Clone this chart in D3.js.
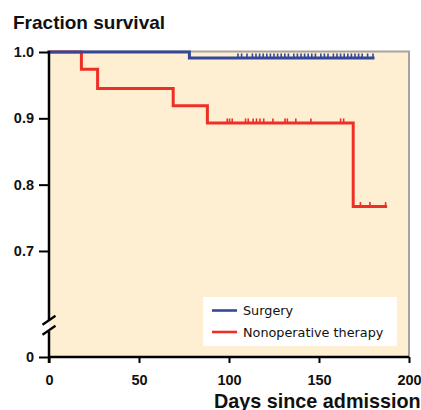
<!DOCTYPE html>
<html>
<head>
<meta charset="utf-8">
<script src="https://cdn.jsdelivr.net/npm/d3@7"></script>
<style>
  html, body { margin: 0; padding: 0; background: #fff; }
  svg { display: block; font-family: "Liberation Sans", Arial, Helvetica, sans-serif; }
</style>
</head>
<body>
<svg id="chart" width="421" height="410"></svg>
<script>
'use strict';

/* survival steps: [day, fraction] */
const surgerySteps = [[0, 1.0], [78, 0.991]];
const surgeryEnd = 180;
const surgeryCensored = [105, 107, 110, 113, 115, 117, 119, 121, 123, 125, 127, 129, 131, 133,
  136, 138, 140, 142, 144, 146, 148, 151, 153, 155, 158, 160, 162, 164, 166, 168, 170, 172,
  174, 177, 180];

const nonopSteps = [[0, 1.0], [18, 0.974], [27, 0.945], [69, 0.919], [88, 0.893], [169, 0.767]];
const nonopEnd = 187;
const nonopCensored = [99, 100.3, 101.8, 109.2, 110.7, 113.4, 115.3, 117.2, 119.3, 124.4, 131.1,
  132.4, 137.1, 145.5, 162, 163.7, 173, 178.3, 187];

const xTicks = [0, 50, 100, 150, 200];
const yTicks = [0, 0.7, 0.8, 0.9, 1.0];
const yTickLabels = ['0', '0.7', '0.8', '0.9', '1.0'];
const seriesNames = ['Surgery', 'Nonoperative therapy'];
const seriesColors = ['#34489a', '#ee2f25'];

const svg = d3.select('#chart');
const x = d3.scaleLinear().domain([0, 200]).range([49, 409]);
const y = d3.scaleLinear().domain([0, 0.6, 1.0]).range([357, 317.3, 52]);
const breakVal = 0.48;

/* plot background + grey frame on top/right */
svg.append('rect')
  .attr('x', x(0)).attr('y', y(1))
  .attr('width', x(200) - x(0)).attr('height', y(0) - y(1))
  .attr('fill', '#feefd2');
svg.append('path')
  .attr('d', `M${x(0)},${y(1) - 0.5}H${x(200)}V${y(0)}`)
  .attr('fill', 'none').attr('stroke', '#a6a39c').attr('stroke-width', 2);

/* step curves */
function stepPath(steps, end) {
  const pts = steps.map(d => [d[0], d[1]]);
  pts.push([end, steps[steps.length - 1][1]]);
  return d3.line().x(d => x(d[0])).y(d => y(d[1])).curve(d3.curveStepAfter)(pts);
}
function valueAt(steps, t) {
  let v = steps[0][1];
  steps.forEach(s => { if (s[0] <= t) v = s[1]; });
  return v;
}
function drawSeries(steps, end, cens, col) {
  svg.append('path')
    .attr('d', stepPath(steps, end))
    .attr('fill', 'none').attr('stroke', col).attr('stroke-width', 3)
    .attr('stroke-linejoin', 'miter').attr('stroke-linecap', 'square');
  svg.append('g').selectAll('line').data(cens).join('line')
    .attr('x1', d => x(d)).attr('x2', d => x(d))
    .attr('y1', d => y(valueAt(steps, d))).attr('y2', d => y(valueAt(steps, d)) - 4.5)
    .attr('stroke', col).attr('stroke-width', 1.6);
}
drawSeries(nonopSteps, nonopEnd, nonopCensored, seriesColors[1]);
drawSeries(surgerySteps, surgeryEnd, surgeryCensored, seriesColors[0]);

/* axes */
const xAxis = svg.append('g').attr('transform', `translate(0,${y(0)})`)
  .call(d3.axisBottom(x).tickValues(xTicks).tickSize(6).tickSizeOuter(0).tickPadding(12));
xAxis.select('.domain').remove();
xAxis.selectAll('.tick line').attr('stroke', '#000').attr('stroke-width', 2);
xAxis.selectAll('text').attr('font-size', 14.5).attr('font-weight', 'bold')
  .attr('font-family', '"Liberation Sans", Arial, sans-serif').attr('fill', '#111');

const yAxis = svg.append('g').attr('transform', `translate(${x(0)},0)`)
  .call(d3.axisLeft(y).tickValues(yTicks).tickFormat((d, i) => yTickLabels[i])
    .tickSize(10).tickSizeOuter(0).tickPadding(5));
yAxis.select('.domain').remove();
yAxis.selectAll('.tick line').attr('stroke', '#000').attr('stroke-width', 2);
yAxis.selectAll('text').attr('font-size', 14.5).attr('font-weight', 'bold')
  .attr('font-family', '"Liberation Sans", Arial, sans-serif').attr('fill', '#111');

/* axis lines with break */
const bc = y(breakVal);
svg.append('line').attr('x1', x(0)).attr('x2', x(200)).attr('y1', y(0)).attr('y2', y(0))
  .attr('stroke', '#000').attr('stroke-width', 2.5);
svg.append('line').attr('x1', x(0)).attr('x2', x(0)).attr('y1', y(1) - 1).attr('y2', bc - 5)
  .attr('stroke', '#000').attr('stroke-width', 2.5);
svg.append('line').attr('x1', x(0)).attr('x2', x(0)).attr('y1', bc + 6).attr('y2', y(0) + 6)
  .attr('stroke', '#000').attr('stroke-width', 2.5);
[-5, 5].forEach(o => {
  svg.append('line')
    .attr('x1', x(0) - 6.5).attr('y1', bc + o + 4.5)
    .attr('x2', x(0) + 6.5).attr('y2', bc + o - 4.5)
    .attr('stroke', '#000').attr('stroke-width', 2.2);
});

/* titles */
svg.append('text').attr('x', 13).attr('y', 29.3)
  .attr('font-size', 19).attr('font-weight', 'bold').attr('fill', '#111')
  .text('Fraction survival');
svg.append('text').attr('x', 214).attr('y', 407.5)
  .attr('font-size', 19.8).attr('font-weight', 'bold').attr('fill', '#111')
  .text('Days since admission');

/* legend */
const lg = svg.append('g');
lg.append('rect').attr('x', 203).attr('y', 297).attr('width', 194).attr('height', 49).attr('fill', '#fff');
seriesNames.forEach((name, i) => {
  const ly = 310.5 + i * 21.5;
  lg.append('line').attr('x1', 212).attr('x2', 237).attr('y1', ly).attr('y2', ly)
    .attr('stroke', seriesColors[i]).attr('stroke-width', 2.6);
  lg.append('text').attr('x', 243).attr('y', ly + 4.5)
    .attr('font-family', '"DejaVu Sans", sans-serif').attr('font-size', 12.8).attr('fill', '#111')
    .text(name);
});
</script>
</body>
</html>
